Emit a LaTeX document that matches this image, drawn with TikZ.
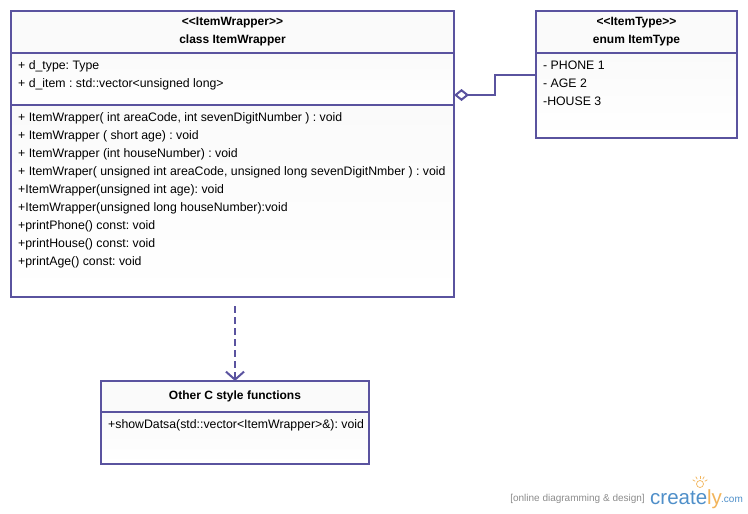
\documentclass[tikz,border=0pt]{standalone}
\usepackage{fontspec}
\setmainfont{Liberation Sans}
\usetikzlibrary{positioning}
\usetikzlibrary{arrows.meta}
\definecolor{umlline}{HTML}{5A539F}
\definecolor{umlhead}{HTML}{FAFAFA}
\definecolor{logoblue}{HTML}{4F8FC9}
\definecolor{logoorange}{HTML}{F2B45A}
\tikzset{
	classhead/.style = {draw = umlline, line width = 2pt, fill = umlhead, rectangle, align = center, inner sep = 0pt, outer sep = 0pt, font = \fontsize{12}{18}\selectfont\bfseries\frenchspacing},
	classbody/.style = {draw = umlline, line width = 2pt, top color = umlhead, bottom color = white, rectangle, inner sep = 0pt, outer sep = 0pt},
	memberlist/.style = {align = left, inner sep = 0pt, anchor = north west, font = \fontsize{12.3}{18}\selectfont\frenchspacing},
	umlconn/.style = {draw = umlline, line width = 2pt}
}

\begin{document}
\begin{tikzpicture}[x = 1pt, y = -1pt]
		\useasboundingbox (0,0) rectangle (748,514);

		\node[classhead, minimum width = 443pt, minimum height = 42pt] at (232.5,32) (wraphead)
		{<{}<ItemWrapper>{}>\\class ItemWrapper};
		\node[classbody, below = 0pt of wraphead, minimum width = 443pt, minimum height = 52pt] (wrapattrs) {};
		\node[classbody, below = 0pt of wrapattrs, minimum width = 443pt, minimum height = 192pt] (wrapmethods) {};

		\node[memberlist] at (18,60) (wrapattrtext)
		{+ d\_type: Type\\
			+ d\_item : std::vector<unsigned long>};
		\node[memberlist] at (18,112) (wrapmethodtext)
		{+ ItemWrapper( int areaCode, int sevenDigitNumber ) : void\\
			+ ItemWrapper ( short age) : void\\
			+ ItemWrapper (int houseNumber) : void\\
			+ ItemWraper( unsigned int areaCode, unsigned long sevenDigitNmber ) : void\\
			+ItemWrapper(unsigned int age): void\\
			+ItemWrapper(unsigned long houseNumber):void\\
			+printPhone() const: void\\
			+printHouse() const: void\\
			+printAge() const: void};

		\node[classhead, minimum width = 201pt, minimum height = 42pt] at (636.5,32) (enumhead)
		{<{}<ItemType>{}>\\enum ItemType};
		\node[classbody, below = 0pt of enumhead, minimum width = 201pt, minimum height = 85pt] (enumattrs) {};
		\node[memberlist] at (543,60.5) (enumtext)
		{- PHONE 1\\
			- AGE 2\\
			-HOUSE 3};

		\node[classhead, minimum width = 268pt, minimum height = 31pt] at (235,396.5) (otherhead)
		{\raisebox{1.5pt}{Other C style functions}};
		\node[classbody, below = 0pt of otherhead, minimum width = 268pt, minimum height = 52pt] (otherbody) {};
		\node[memberlist] at (108,419) (othertext)
		{+showDatsa(std::vector<ItemWrapper>\&): void};

		\coordinate (aggrend) at (454,95);
		\coordinate (aggrin) at (536,75);
		\coordinate (depstart) at (235,306);

		\draw[umlconn, {Diamond[open, length = 15pt, width = 12pt, line width = 2pt]}-] (aggrend) -- (495,95) -- (495,75) -- (aggrin);
		\draw[umlconn, dashed, dash pattern = on 7pt off 4pt, -{Straight Barb[length = 8pt, width = 18pt, line width = 2pt]}] (depstart) -- (otherhead.north);

		% logo
		\node[anchor = east, text = black!45, inner sep = 0pt, font = \fontsize{10}{10}\selectfont] at (645,499) (logotag) {[online diagramming \& design]};
		\node[anchor = west, inner sep = 0pt, font = \fontsize{20.5}{21}\selectfont] at (650,499) (logoname) {\textcolor{logoblue}{create}\textcolor{logoorange}{ly}};
		\node[anchor = west, text = logoblue, inner sep = 0pt, font = \fontsize{10}{10}\selectfont] at (721,500) (logocom) {.com};
		\node[draw = logoorange, circle, line width = 0.7pt, minimum size = 7pt, inner sep = 0pt] at (700,484) (logobulb) {};
		\foreach \ang in {150,120,90,60,30}
			\draw[logoorange, line width = 0.7pt] (700,484) ++(\ang:5.5pt) -- ++(\ang:3pt);

	\end{tikzpicture}
\end{document}
